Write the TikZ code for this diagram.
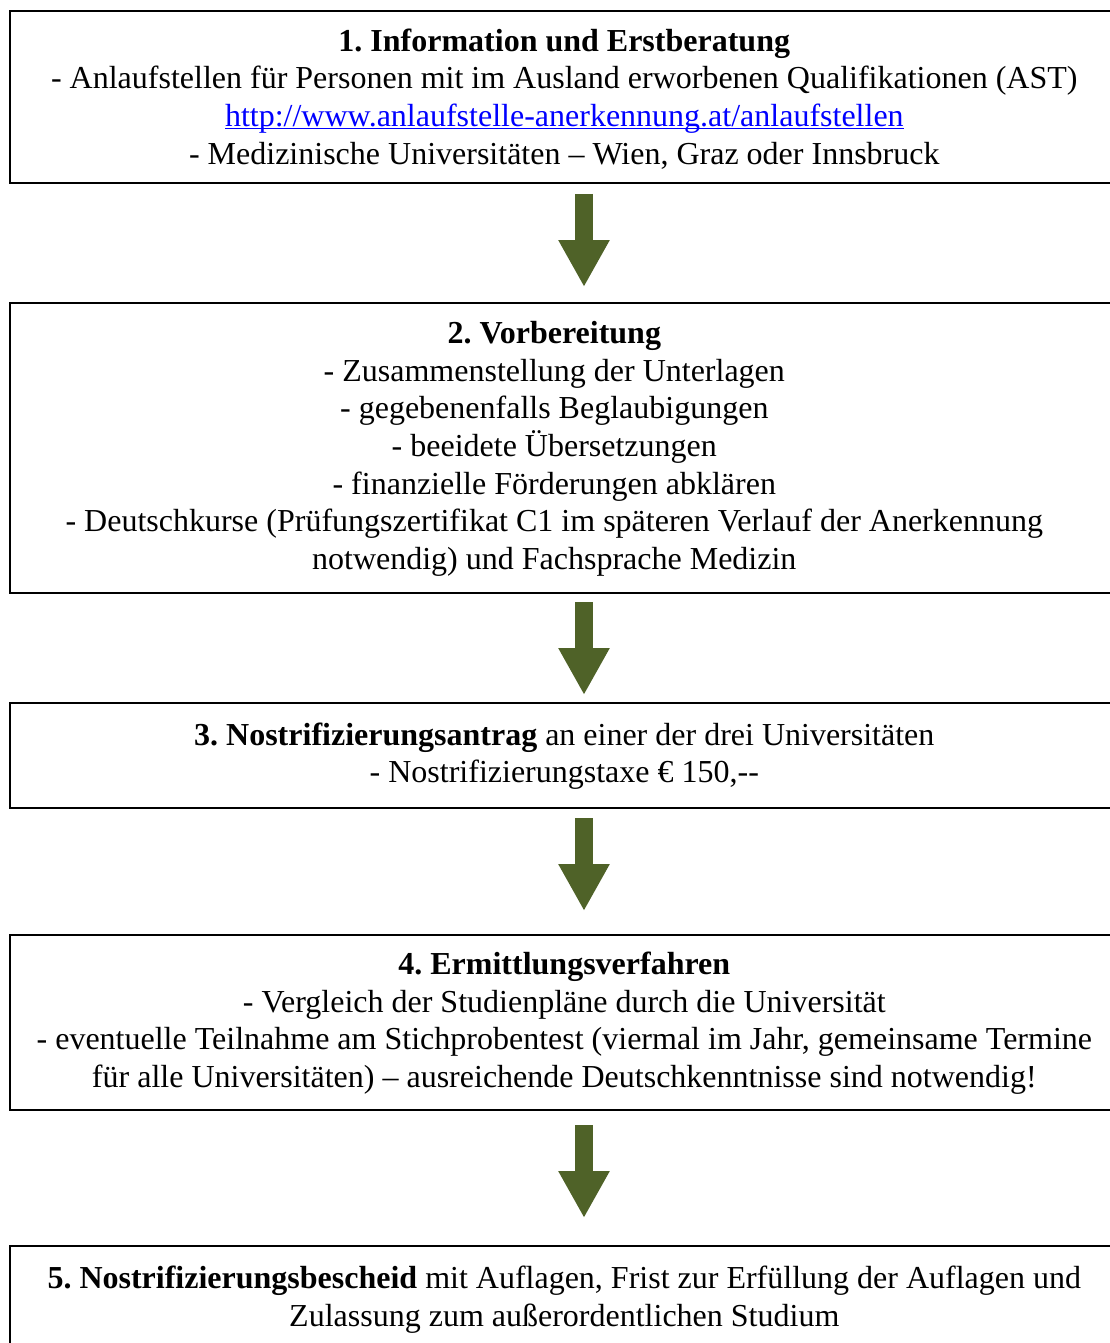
\documentclass[tikz,border=0pt]{standalone}
\usepackage{fontspec}
\setmainfont{Liberation Serif}
\usetikzlibrary{arrows.meta}
\definecolor{arrowc}{RGB}{79,98,40}
\definecolor{linkc}{RGB}{0,0,255}
\tikzset{
  box/.style={draw=black, line width=1.6pt, anchor=north west, inner sep=0pt,
    minimum width=1109pt},
  txt/.style={align=center, inner sep=0pt, font=\fontsize{32pt}{37.6pt}\selectfont\frenchspacing},
  flowarrow/.style={draw=arrowc, line width=18pt,
    -{Triangle[width=48pt,length=47pt]}}
}
\begin{document}
\begin{tikzpicture}[x=1pt,y=1pt]
\useasboundingbox (0,0) rectangle (1110,-1343);
\fill[white] (0,0) rectangle (1110,-1343);
\node[box, minimum height=172pt] (b1) at (9,-10) {};
\node[box, minimum height=290pt] (b2) at (9,-302) {};
\node[box, minimum height=105pt] (b3) at (9,-702) {};
\node[box, minimum height=175pt] (b4) at (9,-934) {};
\node[box, minimum height=106pt] (b5) at (9,-1245) {};
\node[txt] (t1) at ([yshift=-2pt]b1.center) {\textbf{1. Information und Erstberatung}\\
- Anlaufstellen für Personen mit im Ausland erworbenen Qualifikationen (AST)\\
\textcolor{linkc}{\underline{\smash{http://www.anlaufstelle-anerkennung.at/anlaufstellen}}}\\
- Medizinische Universitäten – Wien, Graz oder Innsbruck};
\node[txt] (t2) at ([xshift=-10pt,yshift=-1pt]b2.center) {\textbf{2. Vorbereitung}\\
- Zusammenstellung der Unterlagen\\
- gegebenenfalls Beglaubigungen\\
- beeidete Übersetzungen\\
- finanzielle Förderungen abklären\\
- Deutschkurse (Prüfungszertifikat C1 im späteren Verlauf der Anerkennung\\
notwendig) und Fachsprache Medizin};
\node[txt] (t3) at ([yshift=-1pt]b3.center) {\textbf{3. Nostrifizierungsantrag} an einer der drei Universitäten\\
- Nostrifizierungstaxe € 150,{-}{-}};
\node[txt] (t4) at ([yshift=-1pt]b4.center) {\textbf{4. Ermittlungsverfahren}\\
- Vergleich der Studienpläne durch die Universität\\
- eventuelle Teilnahme am Stichprobentest (viermal im Jahr, gemeinsame Termine\\
für alle Universitäten) – ausreichende Deutschkenntnisse sind notwendig!};
\node[txt] (t5) at ([yshift=-1pt]b5.center) {\textbf{5. Nostrifizierungsbescheid} mit Auflagen, Frist zur Erfüllung der Auflagen und\\
Zulassung zum außerordentlichen Studium};
\coordinate (a1s) at (584,-194); \coordinate (a1e) at (584,-287);
\coordinate (a2s) at (584,-602); \coordinate (a2e) at (584,-695);
\coordinate (a3s) at (584,-818); \coordinate (a3e) at (584,-911);
\coordinate (a4s) at (584,-1125); \coordinate (a4e) at (584,-1218);
\draw[flowarrow] (a1s) -- (a1e);
\draw[flowarrow] (a2s) -- (a2e);
\draw[flowarrow] (a3s) -- (a3e);
\draw[flowarrow] (a4s) -- (a4e);
\end{tikzpicture}
\end{document}
